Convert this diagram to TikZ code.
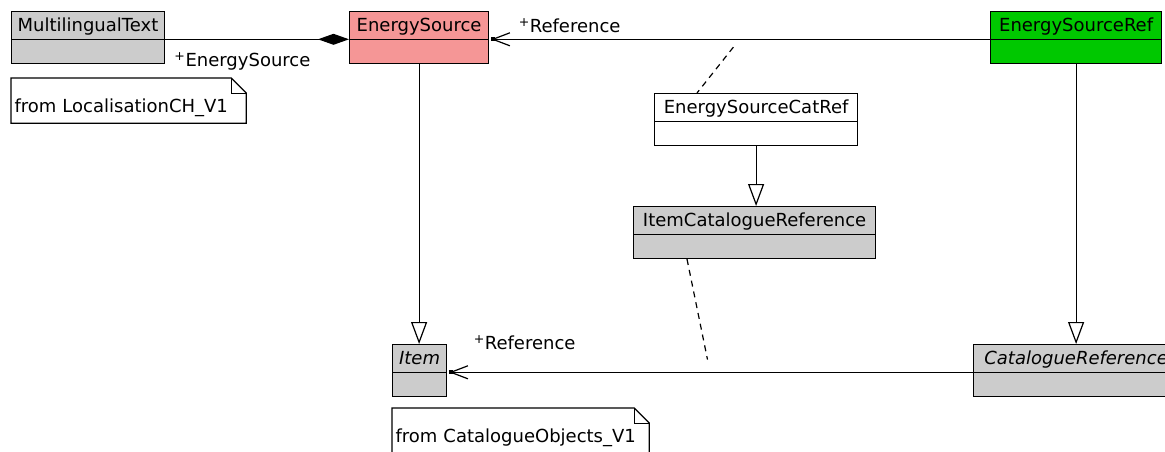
\documentclass[tikz,border=0pt]{standalone}
\usepackage{fontspec}
\setmainfont{DejaVu Sans}
\usetikzlibrary{arrows.meta, shapes.multipart, positioning}

\definecolor{srcpink}{RGB}{245,150,150}
\definecolor{refgreen}{RGB}{0,200,0}
\definecolor{classgrey}{RGB}{204,204,204}

% name compartment and empty attribute compartment
\newcommand{\clsparts}[1]{\rule[-4.5pt]{0pt}{21.5pt}#1\nodepart{second}\rule{0pt}{18pt}}

\begin{document}
\begin{tikzpicture}[x=1pt, y=-1pt, line width=1.2pt,
        every node/.style={font=\fontsize{18}{21}\selectfont},
        umlclass/.style={draw, rectangle split, rectangle split parts=2, anchor=north west,
            fill=classgrey, inner xsep=6pt, inner ysep=2.5pt},
        umlnote/.style={anchor=north west, align=left, inner xsep=3pt, inner ysep=6pt,
            text height=28pt, text depth=4pt},
        rolename/.style={anchor=base west, inner sep=2pt},
        genarrow/.style={-{Triangle[open, length=22pt, width=16pt]}},
        navarrow/.style={-{Straight Barb[length=17pt, width=13pt]}, shorten >=2pt},
        comparrow/.style={-{Diamond[length=31pt, width=11pt]}},
        assocdash/.style={dash pattern=on 6pt off 5pt}]
    \useasboundingbox (0,0) rectangle (1165,452);

    % Nodes
    \node[umlclass, minimum width=152pt] at (11,11) (mlt) {\clsparts{MultilingualText}};
    \node[umlclass, minimum width=139pt, fill=srcpink] at (349,11) (es) {\clsparts{EnergySource}};
    \node[umlclass, minimum width=171pt, fill=refgreen] at (990,11) (esr) {\clsparts{EnergySourceRef}};
    \node[umlclass, minimum width=203pt, fill=white] at (654,93) (escr) {\clsparts{EnergySourceCatRef}};
    \node[umlclass, minimum width=242pt] at (633,206) (icr) {\clsparts{ItemCatalogueReference}};
    \node[umlclass, minimum width=54pt] at (392,344) (item) {\clsparts{\itshape Item}};
    \node[umlclass, minimum width=205pt] at (973,344) (cr) {\clsparts{\itshape CatalogueReference}};

    \node[umlnote, text width=228pt] at (11,78) (lcnote) {from LocalisationCH\_V1};
    \node[umlnote, text width=250pt] at (392,408) (conote) {from CatalogueObjects\_V1};

    % Notes
    \draw (lcnote.south west) -- (lcnote.north west) -- ([xshift=-15pt]lcnote.north east)
        -- ([yshift=-15pt]lcnote.north east) -- (lcnote.south east) -- cycle;
    \draw[line width=0.6pt] ([xshift=-15pt]lcnote.north east) -- ++(0,15) -- ([yshift=-15pt]lcnote.north east);
    \draw (conote.south west) -- (conote.north west) -- ([xshift=-15pt]conote.north east)
        -- ([yshift=-15pt]conote.north east) -- (conote.south east) -- cycle;
    \draw[line width=0.6pt] ([xshift=-15pt]conote.north east) -- ++(0,15) -- ([yshift=-15pt]conote.north east);

    % Edges
    \draw[comparrow] (mlt.text split east) -- (es.text split west)
        node[at start, rolename, xshift=7pt, yshift=-27pt] {\textsuperscript{+}EnergySource};

    \draw[navarrow] (esr.text split west) -- coordinate (srcmid) (es.text split east)
        node[at end, rolename, xshift=27pt, yshift=6.5pt] {\textsuperscript{+}Reference};
    \fill ([xshift=2pt, yshift=2pt]es.text split east) rectangle ++(4,4);
    \draw[assocdash, shorten <=10pt] (srcmid) -- ([xshift=43pt]escr.north west);

    \draw[genarrow] (escr.south) -- (escr.south |- icr.north);
    \draw[genarrow] (es.south) -- (es.south |- item.north);
    \draw[genarrow] (esr.south) -- (esr.south |- cr.north);

    \draw[navarrow] (cr.text split west) -- coordinate (itemmid) (item.text split east)
        node[at end, rolename, xshift=24pt, yshift=23pt] {\textsuperscript{+}Reference};
    \fill ([xshift=2pt, yshift=2pt]item.text split east) rectangle ++(4,4);
    \draw[assocdash, shorten >=13pt] ([xshift=54pt]icr.south west) -- (itemmid);
\end{tikzpicture}
\end{document}
